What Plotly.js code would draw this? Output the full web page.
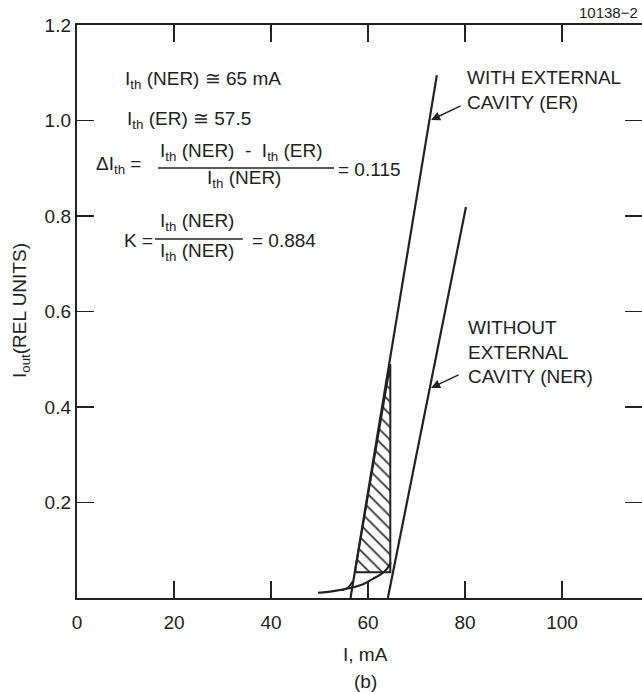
<!DOCTYPE html>
<html>
<head>
<meta charset="utf-8">
<script src="https://cdn.plot.ly/plotly-3.0.1.min.js"></script>
<style>html,body{margin:0;padding:0;background:#fff;}#chart{width:642px;height:692px;}</style>
</head>
<body>
<div id="chart"></div>
<script>
// ---- data ----
const erX = [56.4, 74.2];            // with external cavity (ER) linear part
const erY = [0, 1.095];
const nerX = [64.1, 80.2];           // without external cavity (NER) linear part
const nerY = [0, 0.819];
const spontX = [49.7, 53.2, 56.3, 59.0, 61.0, 62.7, 63.9, 64.7]; // below-threshold curve
const spontY = [0.011, 0.015, 0.021, 0.029, 0.040, 0.050, 0.061, 0.075];
const erKneeX = [54.6, 55.9, 56.8];
const erKneeY = [0.016, 0.022, 0.034];
const hatchX = [57.3, 64.6, 64.6, 57.3];  // shaded triangle
const hatchY = [0.054, 0.054, 0.49, 0.054];
const xTicks = [0, 20, 40, 60, 80, 100];
const yTicks = [0.2, 0.4, 0.6, 0.8, 1.0, 1.2];
const yTickText = ['0.2', '0.4', '0.6', '0.8', '1.0', '1.2'];

const ink = '#222';
const FONT = '"Liberation Sans", Arial, Helvetica, sans-serif';
const lineStyle = {color: ink, width: 2.2};
const FS = 19;

const traces = [
  {x: hatchX, y: hatchY, mode: 'lines', fill: 'toself', fillcolor: 'rgba(0,0,0,0)',
   fillpattern: {shape: '\\', fgcolor: '#333', bgcolor: 'rgba(255,255,255,0)', size: 9, solidity: 0.2},
   line: {color: ink, width: 2}, hoverinfo: 'skip', showlegend: false},
  {x: erX, y: erY, mode: 'lines', line: lineStyle, showlegend: false},
  {x: nerX, y: nerY, mode: 'lines', line: lineStyle, showlegend: false},
  {x: spontX, y: spontY, mode: 'lines', line: Object.assign({shape: 'spline'}, lineStyle), showlegend: false},
  {x: erKneeX, y: erKneeY, mode: 'lines', line: {color: ink, width: 2, shape: 'spline'}, showlegend: false}
];

function txt(x, y, text, opts) {
  return Object.assign({x: x, y: y, xref: 'x', yref: 'y', text: text, showarrow: false,
    xanchor: 'left', yanchor: 'middle', font: {family: FONT, size: FS, color: ink}}, opts || {});
}
const I = 'I<sub>th</sub>';
const NB = '\u00a0';
const annotations = [
  txt(9.4, 1.085, I + ' (NER) \u2245 65 mA'),
  txt(9.8, 1.001, I + ' (ER) \u2245 57.5'),
  txt(3.6, 0.906, '\u0394I<sub>th</sub> ='),
  txt(16.7, 0.933, I + ' (NER)' + NB + NB + '-' + NB + NB + I + ' (ER)'),
  txt(26.4, 0.877, I + ' (NER)'),
  txt(53.4, 0.898, '= 0.115'),
  txt(9.3, 0.748, 'K ='),
  txt(16.7, 0.787, I + ' (NER)'),
  txt(16.7, 0.724, I + ' (NER)'),
  txt(35.6, 0.748, '= 0.884'),
  txt(80.0, 1.063, 'WITH EXTERNAL<br>CAVITY (ER)', {align: 'left'}),
  txt(80.2, 0.515, 'WITHOUT<br>EXTERNAL<br>CAVITY (NER)', {align: 'left'}),
  {x: 73.0, y: 1.001, ax: 79.4, ay: 1.032, xref: 'x', yref: 'y', axref: 'x', ayref: 'y', text: '',
   showarrow: true, arrowhead: 2, arrowsize: 1.3, arrowwidth: 1.4, arrowcolor: ink},
  {x: 73.0, y: 0.440, ax: 79.0, ay: 0.469, xref: 'x', yref: 'y', axref: 'x', ayref: 'y', text: '',
   showarrow: true, arrowhead: 2, arrowsize: 1.3, arrowwidth: 1.4, arrowcolor: ink},
  {x: 0.997, y: 1.021, xref: 'paper', yref: 'paper', text: '10138\u22122', showarrow: false,
   xanchor: 'right', yanchor: 'middle', font: {family: FONT, size: 15, color: ink}},
  {x: 0.51, y: -0.098, xref: 'paper', yref: 'paper', text: 'I, mA', showarrow: false,
   xanchor: 'center', yanchor: 'middle', font: {family: FONT, size: FS, color: ink}},
  {x: 0.51, y: -0.145, xref: 'paper', yref: 'paper', text: '(b)', showarrow: false,
   xanchor: 'center', yanchor: 'middle', font: {family: FONT, size: FS, color: ink}},
  {x: -0.099, y: 0.501, xref: 'paper', yref: 'paper', text: 'I<sub>out</sub>(REL UNITS)', showarrow: false,
   textangle: -90, xanchor: 'center', yanchor: 'middle', font: {family: FONT, size: FS, color: ink}}
];

const shapes = [
  {type: 'line', xref: 'x', yref: 'y', x0: 16.7, x1: 53.0, y0: 0.9005, y1: 0.9005, line: {color: ink, width: 1.5}},
  {type: 'line', xref: 'x', yref: 'y', x0: 16.1, x1: 34.2, y0: 0.752, y1: 0.752, line: {color: ink, width: 1.5}}
];

const axisCommon = {showgrid: false, zeroline: false, showline: true, linecolor: ink, linewidth: 2.2,
  mirror: 'ticks', ticks: 'inside', ticklen: 17, tickwidth: 1.5, tickcolor: ink,
  tickfont: {family: FONT, size: FS, color: ink}, fixedrange: true};

const layout = {
  width: 642, height: 692,
  margin: {l: 77, r: 0, t: 25, b: 94, pad: 0},
  paper_bgcolor: '#fff', plot_bgcolor: '#fff',
  showlegend: false,
  xaxis: Object.assign({}, axisCommon, {range: [0, 116.5], tickvals: xTicks, ticktext: xTicks.map(String), ticklabelstandoff: 6}),
  yaxis: Object.assign({}, axisCommon, {range: [0, 1.2], tickvals: yTicks, ticktext: yTickText}),
  annotations: annotations,
  shapes: shapes
};

Plotly.newPlot('chart', traces, layout, {displayModeBar: false, staticPlot: true});
</script>
</body>
</html>
